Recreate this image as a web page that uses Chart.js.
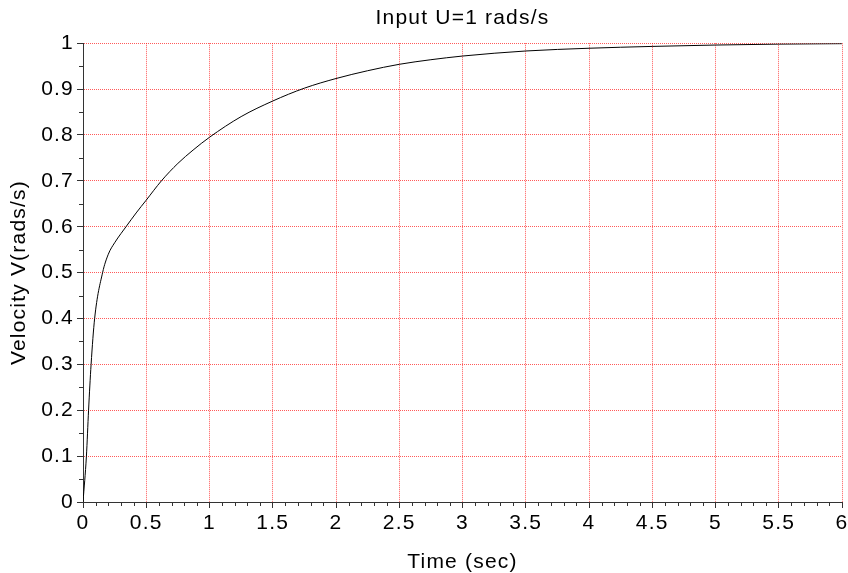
<!DOCTYPE html>
<html>
<head>
<meta charset="utf-8">
<script src="https://cdn.jsdelivr.net/npm/chart.js@4/dist/chart.umd.min.js"></script>
<style>
    html, body { margin: 0; padding: 0; background: #fff; }
    #wrap { width: 848px; height: 573px; }
</style>
</head>
<body>
<div id="wrap"><canvas id="chart" width="848" height="573"></canvas></div>
<script>
// Step response
const timeSec = [0, 0.027, 0.044, 0.064, 0.092, 0.155, 0.2, 0.25, 0.3, 0.34, 0.42, 0.5, 0.62, 0.75, 0.87, 1.0, 1.25, 1.5, 1.75, 2.0, 2.25, 2.5, 2.75, 3.0, 3.5, 4.0, 4.5, 5.0, 5.5, 6.0];
const velocity = [0, 0.1, 0.2, 0.3, 0.4, 0.5, 0.54, 0.565, 0.585, 0.6, 0.63, 0.658, 0.7, 0.738, 0.767, 0.795, 0.84, 0.874, 0.902, 0.923, 0.94, 0.954, 0.964, 0.972, 0.983, 0.989, 0.993, 0.996, 0.998, 0.999];

const xMin = 0, xMax = 6, xStep = 0.5, xMinorStep = 0.1;
const yMin = 0, yMax = 1, yStep = 0.1, yMinorStep = 0.05;

const FONT = "'Liberation Sans', Arial, sans-serif";

const points = timeSec.map((t, i) => ({ x: t, y: velocity[i] }));

// the original labels are set a little looser than Arial
const spacing = {
    id: 'spacing',
    beforeUpdate(chart) { chart.ctx.letterSpacing = '1.2px'; },
    beforeDraw(chart) { chart.ctx.letterSpacing = '1.2px'; }
};

// minor tick marks, placed through the chart scales
const minorTicks = {
    id: 'minorTicks',
    afterDraw(chart) {
        const ctx = chart.ctx;
        const xs = chart.scales.x;
        const ys = chart.scales.y;
        ctx.save();
        ctx.strokeStyle = '#333';
        ctx.lineWidth = 1;
        ctx.beginPath();
        for (let i = 1; xMin + i * xMinorStep < xMax; i++) {
            if (i % 5 === 0) continue;
            const px = Math.round(xs.getPixelForValue(xMin + i * xMinorStep)) + 0.5;
            ctx.moveTo(px, ys.bottom);
            ctx.lineTo(px, ys.bottom + 4);
        }
        for (let i = 1; yMin + i * yMinorStep < yMax; i++) {
            if (i % 2 === 0) continue;
            const py = Math.round(ys.getPixelForValue(yMin + i * yMinorStep)) + 0.5;
            ctx.moveTo(xs.left, py);
            ctx.lineTo(xs.left - 4, py);
        }
        ctx.stroke();
        ctx.restore();
    }
};

function buildTicks(min, max, step) {
    return scale => {
        const ticks = [];
        for (let v = min; v <= max + 1e-9; v += step) ticks.push({ value: +v.toFixed(2) });
        scale.ticks = ticks;
    };
}

new Chart(document.getElementById('chart'), {
    type: 'line',
    data: {
        datasets: [{
            data: points,
            borderColor: '#000',
            borderWidth: 1,
            pointRadius: 0,
            fill: false,
            cubicInterpolationMode: 'monotone'
        }]
    },
    options: {
        responsive: false,
        animation: false,
        layout: { padding: { left: 0, right: 6, top: 0, bottom: 0 } },
        plugins: {
            legend: { display: false },
            tooltip: { enabled: false },
            title: {
                display: true,
                text: 'Input U=1 rads/s',
                color: '#000',
                fullSize: false,
                font: { family: FONT, size: 21, weight: 'normal' },
                padding: { top: 6, bottom: 12 }
            }
        },
        scales: {
            x: {
                type: 'linear',
                min: xMin,
                max: xMax,
                afterBuildTicks: buildTicks(xMin, xMax, xStep),
                afterFit(scale) {
                    scale.height = 71;
                    scale.paddingRight = 0;
                    scale.paddingLeft = 0;
                },
                ticks: {
                    color: '#000',
                    font: { family: FONT, size: 21 },
                    padding: 3,
                    maxRotation: 0,
                    autoSkip: false,
                    callback: v => String(v)
                },
                grid: {
                    color: 'rgba(255,20,20,0.7)',
                    lineWidth: 1,
                    tickColor: '#333',
                    tickLength: 6
                },
                border: { color: '#333', width: 1, dash: [1, 1] },
                title: {
                    display: true,
                    text: 'Time (sec)',
                    color: '#000',
                    font: { family: FONT, size: 21 },
                    padding: { top: 6, bottom: -2 }
                }
            },
            y: {
                type: 'linear',
                min: yMin,
                max: yMax,
                afterBuildTicks: buildTicks(yMin, yMax, yStep),
                afterFit(scale) { scale.width = 83; },
                ticks: {
                    color: '#000',
                    font: { family: FONT, size: 21 },
                    padding: 3,
                    autoSkip: false,
                    callback: v => String(v)
                },
                grid: {
                    color: 'rgba(255,20,20,0.7)',
                    lineWidth: 1,
                    tickColor: '#333',
                    tickLength: 6
                },
                border: { color: '#333', width: 1, dash: [1, 1] },
                title: {
                    display: true,
                    text: 'Velocity V(rads/s)',
                    color: '#000',
                    font: { family: FONT, size: 21 },
                    padding: { top: 7, bottom: 0 }
                }
            }
        }
    },
    plugins: [spacing, minorTicks]
});
</script>
</body>
</html>
